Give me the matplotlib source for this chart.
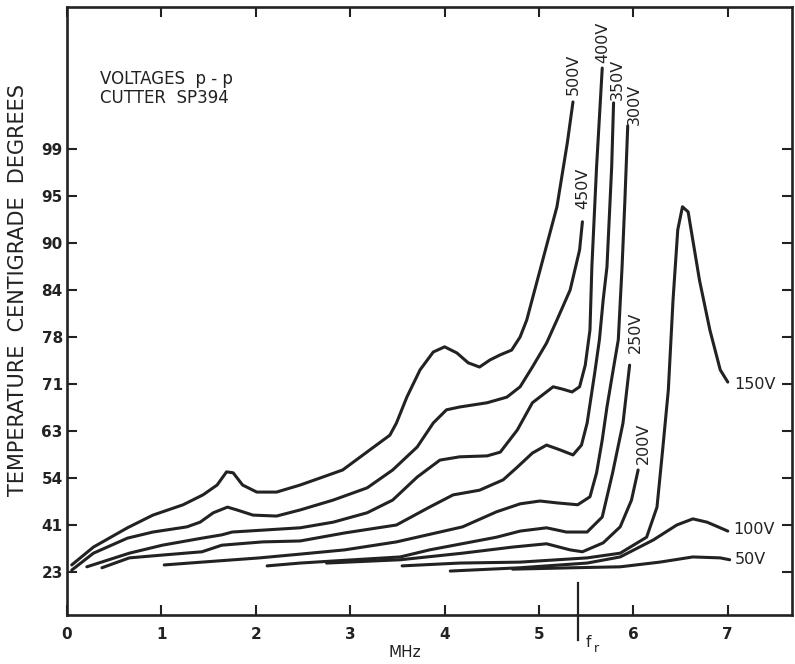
import matplotlib.pyplot as plt

# x in MHz, y as position on the ruled temperature scale (one division per labelled tick)
temp_ticks = [23, 41, 54, 63, 71, 78, 84, 90, 95, 99]
mhz_ticks = [0, 1, 2, 3, 4, 5, 6, 7]
fr_mhz = 5.41

v500_x = [0.05, 0.28, 0.64, 0.91, 1.23, 1.44, 1.59, 1.69, 1.76, 1.86, 2.01, 2.22, 2.47, 2.71,
          2.92, 3.21, 3.42, 3.49, 3.60, 3.74, 3.88, 4.00, 4.13, 4.25, 4.37, 4.48, 4.59, 4.71,
          4.80, 4.87, 5.04, 5.19, 5.30, 5.36]
v500_y = [0.15, 0.53, 0.94, 1.21, 1.43, 1.64, 1.85, 2.13, 2.11, 1.85, 1.70, 1.70, 1.85, 2.02,
          2.17, 2.60, 2.91, 3.17, 3.72, 4.30, 4.68, 4.79, 4.66, 4.45, 4.36, 4.51, 4.62, 4.72,
          5.00, 5.36, 6.64, 7.77, 9.13, 10.00]

v450_x = [0.05, 0.28, 0.64, 0.91, 1.27, 1.41, 1.55, 1.70, 1.80, 1.97, 2.22, 2.47, 2.82, 3.18,
          3.45, 3.71, 3.88, 4.02, 4.16, 4.45, 4.66, 4.80, 4.93, 5.08, 5.19, 5.33, 5.43, 5.46]
v450_y = [0.04, 0.40, 0.72, 0.85, 0.96, 1.06, 1.26, 1.38, 1.32, 1.21, 1.19, 1.32, 1.53, 1.79,
          2.17, 2.66, 3.17, 3.45, 3.51, 3.60, 3.72, 3.94, 4.36, 4.87, 5.36, 6.00, 6.85, 7.45]

v400_x = [0.21, 0.66, 1.01, 1.43, 1.64, 1.75, 2.07, 2.47, 2.82, 3.18, 3.45, 3.71, 3.95, 4.16,
          4.45, 4.59, 4.77, 4.93, 5.15, 5.25, 5.35, 5.43, 5.49, 5.54, 5.56, 5.61, 5.67]
v400_y = [0.11, 0.40, 0.57, 0.72, 0.79, 0.85, 0.89, 0.94, 1.06, 1.26, 1.53, 2.02, 2.38, 2.45,
          2.47, 2.55, 3.02, 3.60, 3.94, 3.89, 3.83, 3.94, 4.40, 5.15, 6.49, 8.62, 10.72]

v350_x = [0.37, 0.66, 1.01, 1.43, 1.49, 1.64, 2.07, 2.47, 2.94, 3.49, 3.84, 4.09, 4.37, 4.62,
          4.77, 4.93, 5.08, 5.22, 5.36, 5.45, 5.51, 5.59, 5.64, 5.68, 5.72, 5.77, 5.79]
v350_y = [0.09, 0.30, 0.36, 0.43, 0.47, 0.57, 0.64, 0.66, 0.83, 1.00, 1.38, 1.64, 1.74, 1.96,
          2.23, 2.53, 2.70, 2.60, 2.49, 2.70, 3.17, 4.23, 4.94, 5.79, 6.49, 8.62, 9.98]

v300_x = [1.03, 1.43, 2.04, 2.47, 2.94, 3.49, 4.19, 4.55, 4.80, 5.01, 5.19, 5.41, 5.54, 5.61,
          5.67, 5.72, 5.78, 5.84, 5.88, 5.91, 5.94]
v300_y = [0.15, 0.21, 0.30, 0.38, 0.47, 0.64, 0.96, 1.28, 1.45, 1.51, 1.47, 1.43, 1.60, 2.11,
          2.81, 3.51, 4.23, 4.94, 6.49, 7.91, 9.49]

v250_x = [2.12, 2.47, 2.79, 3.53, 3.84, 4.55, 4.80, 5.08, 5.29, 5.51, 5.67, 5.78, 5.89, 5.96]
v250_y = [0.13, 0.19, 0.23, 0.32, 0.47, 0.74, 0.87, 0.94, 0.85, 0.85, 1.17, 2.11, 3.17, 4.40]

v200_x = [2.75, 3.53, 4.19, 4.72, 5.08, 5.33, 5.46, 5.68, 5.86, 5.98, 6.05]
v200_y = [0.19, 0.26, 0.40, 0.53, 0.60, 0.47, 0.43, 0.62, 0.96, 1.53, 2.17]

v150_x = [3.55, 4.16, 4.80, 5.51, 5.86, 6.14, 6.25, 6.31, 6.37, 6.42, 6.47, 6.52, 6.58, 6.70,
          6.81, 6.92, 7.00]
v150_y = [0.13, 0.19, 0.21, 0.30, 0.40, 0.74, 1.38, 2.60, 3.87, 5.79, 7.28, 7.77, 7.66, 6.21,
          5.15, 4.30, 4.04]

v100_x = [4.06, 4.80, 5.51, 5.86, 6.21, 6.46, 6.63, 6.78, 6.92, 7.00]
v100_y = [0.02, 0.09, 0.19, 0.32, 0.68, 1.00, 1.13, 1.06, 0.94, 0.87]

v50_x = [4.72, 5.36, 5.86, 6.28, 6.63, 6.92, 7.02]
v50_y = [0.06, 0.09, 0.11, 0.21, 0.32, 0.30, 0.26]

curves = [
    ("500V", v500_x, v500_y),
    ("450V", v450_x, v450_y),
    ("400V", v400_x, v400_y),
    ("350V", v350_x, v350_y),
    ("300V", v300_x, v300_y),
    ("250V", v250_x, v250_y),
    ("200V", v200_x, v200_y),
    ("150V", v150_x, v150_y),
    ("100V", v100_x, v100_y),
    ("50V", v50_x, v50_y),
]

# where each curve label sits relative to the curve end (points), and its rotation
label_style = {
    "500V": ((0.5, 5), 90), "450V": ((0.5, 9), 90), "400V": ((0.5, 4), 90),
    "350V": ((3, 2), 90), "300V": ((5, 1), 90), "250V": ((4, 9), 90),
    "200V": ((4, 4), 90), "150V": ((5, -2), 0), "100V": ((4, 1), 0), "50V": ((4, 0), 0),
}

ink = "#222222"
plt.rcParams['font.family'] = ['DejaVu Sans']

fig = plt.figure(figsize=(7.95, 6.64), dpi=100)
ax = fig.add_axes([0.0843, 0.0738, 0.9119, 0.9157])

for name, xs, ys in curves:
    ax.plot(xs, ys, color=ink, lw=2.2, solid_joinstyle='round', solid_capstyle='round')
    (dx, dy), rot = label_style[name]
    if rot == 90:
        ax.annotate(name, (xs[-1], ys[-1]), xytext=(dx, dy), textcoords='offset points',
                    rotation=90, ha='center', va='bottom', fontsize=11.5, color=ink)
    else:
        ax.annotate(name, (xs[-1], ys[-1]), xytext=(dx, dy), textcoords='offset points',
                    ha='left', va='center', fontsize=11.5, color=ink)

ax.set_xlim(0, 7.68)
ax.set_ylim(-0.915, 12.02)
ax.set_xticks(mhz_ticks)
ax.set_xticklabels([str(t) for t in mhz_ticks], fontweight='bold')
ax.set_yticks(range(len(temp_ticks)))
ax.set_yticklabels([str(t) for t in temp_ticks], fontweight='bold')
ax.tick_params(direction='in', length=7, width=1.5, top=True, right=True,
               labelsize=11, colors=ink)
ax.tick_params(axis='x', pad=9)
ax.tick_params(axis='y', pad=3)
for sp in ax.spines.values():
    sp.set_linewidth(1.9)
    sp.set_color(ink)

# resonance marker below the frequency axis
ax.axvline(fr_mhz, ymin=-0.041, ymax=0.053, color=ink, lw=1.6, clip_on=False)
ax.text(fr_mhz + 0.08, -0.045, "f", transform=ax.get_xaxis_transform(),
        ha='left', va='center', fontsize=11, color=ink)
ax.text(fr_mhz + 0.17, -0.055, "r", transform=ax.get_xaxis_transform(),
        ha='left', va='center', fontsize=9, color=ink)

ax.text(0.466, -0.0625, "MHz", transform=ax.transAxes, ha='center', va='center',
        fontsize=11, color=ink)
ax.text(-0.0676, 0.535, "TEMPERATURE  CENTIGRADE  DEGREES", transform=ax.transAxes,
        rotation=90, ha='center', va='center', fontsize=15, color=ink)

ax.text(0.0455, 0.881, "VOLTAGES  p - p", transform=ax.transAxes, ha='left', va='center',
        fontsize=12, color=ink)
ax.text(0.0455, 0.851, "CUTTER  SP394", transform=ax.transAxes, ha='left', va='center',
        fontsize=12, color=ink)

fig.savefig('out.png', dpi=100)
